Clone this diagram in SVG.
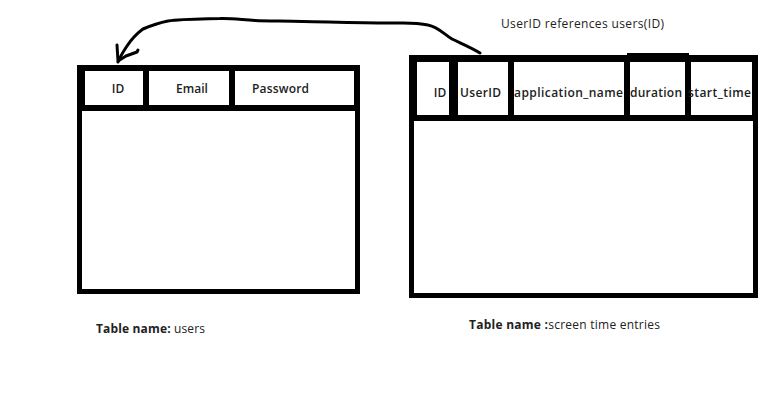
<svg xmlns="http://www.w3.org/2000/svg" width="762" height="418" viewBox="0 0 762 418">
  <style>
    .frame { fill: none; stroke: #000; stroke-width: 5; }
    .cell { fill: none; stroke: #000; stroke-width: 6; }
    .col { font-family: "Open Sans", "Noto Sans", "DejaVu Sans", sans-serif; font-size: 12px; font-weight: 600; fill: #222; }
    .note { font-family: "Open Sans", "Noto Sans", "DejaVu Sans", sans-serif; font-size: 12px; fill: #222; }
    .link { fill: none; stroke: #000; stroke-width: 3; stroke-linecap: round; stroke-linejoin: round; }
  </style>
  <rect width="762" height="418" fill="#fff"/>

  <!-- users table -->
  <g id="users">
    <rect class="frame" x="79.5" y="67.5" width="278" height="224"/>
    <rect class="cell" x="82" y="68" width="275" height="40"/>
    <line class="cell" x1="146" y1="68" x2="146" y2="108"/>
    <line class="cell" x1="232" y1="68" x2="232" y2="108"/>
    <text class="col" x="118" y="93" text-anchor="middle">ID</text>
    <text class="col" x="192" y="93" text-anchor="middle">Email</text>
    <text class="col" x="252" y="93" textLength="57">Password</text>
    <text class="note" x="96" y="333" textLength="109"><tspan font-weight="700">Table name:</tspan> users</text>
  </g>

  <!-- screen time entries table -->
  <g id="screen_time_entries">
    <rect class="frame" x="411.5" y="57.5" width="344" height="238"/>
    <rect class="cell" x="414" y="59" width="341" height="59"/>
    <rect x="449" y="55" width="9" height="63" fill="#000"/>
    <line class="cell" x1="511" y1="58" x2="511" y2="118"/>
    <line class="cell" x1="627" y1="55" x2="627" y2="118"/>
    <line x1="627" y1="55.5" x2="689" y2="55.5" stroke="#000" stroke-width="5"/>
    <line class="cell" x1="688" y1="55" x2="688" y2="118"/>
    <text class="col" x="440" y="97" text-anchor="middle">ID</text>
    <text class="col" x="460" y="97" textLength="41">UserID</text>
    <text class="col" x="514" y="97" textLength="109">application_name</text>
    <text class="col" x="630" y="97" textLength="52">duration</text>
    <text class="col" x="688" y="97" textLength="63">start_time</text>
    <text class="note" x="469" y="329" textLength="191"><tspan font-weight="700">Table name :</tspan>screen time entries</text>
  </g>

  <!-- foreign key label -->
  <text class="note" x="501" y="28" textLength="163">UserID references users(ID)</text>

  <!-- connectors -->
  <g id="connectors">
    <path class="link" d="M480,53 C470,47 460,43 452,39 C444,34 438,27 428,25 C415,22 405,23 390,23 C360,23 330,22 303,21.5 C280,21 265,21 255,20.5 C240,19.5 230,18 220,18.5 C200,19 180,19 168,21 C158,23 150,26 143,29 C136,34 131,40 127,46 C123,52 120,57 118,62"/>
    <path class="link" d="M117,45 L118,61 L126,56 L137,52 L138,50"/>
  </g>
</svg>
